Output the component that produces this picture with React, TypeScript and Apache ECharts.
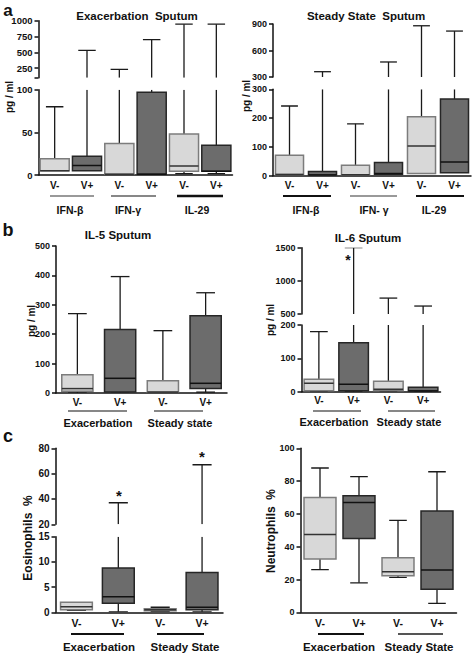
import React, { useEffect, useRef } from 'react';
import * as echarts from 'echarts';

// ---------- data ----------
const vLabels6 = ['V-', 'V+', 'V-', 'V+', 'V-', 'V+'];
const vLabels4 = ['V-', 'V+', 'V-', 'V+'];
const cytokineGroups = ['IFN-β', 'IFN-γ', 'IL-29'];
const cytokineGroupsSteady = ['IFN-β', 'IFN- γ', 'IL-29'];
const stateGroupsB = ['Exacerbation', 'Steady state'];
const stateGroupsC = ['Exacerbation', 'Steady State'];

// [min, q1, median, q3, max]
const exacerbationSputum = [
  [5, 5, 5, 19, 80],
  [5, 5, 11, 22, 530],
  [1, 1, 1, 37, 230],
  [1, 1, 1, 97, 700],
  [1.7, 4.5, 10.5, 48, 945],
  [1.7, 4.5, 4.5, 35, 945],
];
const steadyStateSputum = [
  [4, 4, 4, 71, 242],
  [2, 2, 2, 15, 360],
  [3, 3, 3, 36, 180],
  [5, 5, 8, 46, 470],
  [7, 8, 103, 205, 880],
  [9, 10, 48, 266, 820],
];
const il5Sputum = [
  [0, 6, 15, 62, 270],
  [0, 3, 50, 216, 396],
  [0, 3, 3, 42, 212],
  [3, 15, 33, 263, 341],
];
const il6Sputum = [
  [0, 3, 25, 37, 180],
  [0, 3, 22, 147, 1500],
  [0, 3, 7, 31, 740],
  [0, 2, 2, 13, 620],
];
const eosinophils = [
  [0.4, 0.5, 1.1, 2.0, 2.0],
  [0.1, 1.8, 3.1, 8.8, 37],
  [0.2, 0.3, 0.5, 0.7, 1.0],
  [0.1, 0.5, 1.0, 7.9, 67],
];
const neutrophils = [
  [26, 32.5, 47.5, 70, 88],
  [18, 45, 67, 71, 82.7],
  [21.3, 22.3, 24.8, 33.3, 56],
  [5.5, 14, 25.8, 61.8, 85.7],
];

// axis ticks / labels
const exacUpperTicks = [100, 250, 500, 750, 1000];
const exacUpperLabels = [250, 500, 750, 1000];
const exacLowerTicks = [0, 50, 100];
const steadyUpperTicks = [300, 600, 900];
const steadyLowerTicks = [0, 100, 200, 300];
const il5Ticks = [0, 100, 200, 300, 400, 500];
const il6UpperTicks = [500, 1000, 1500];
const il6LowerTicks = [0, 100, 200];
const eosUpperTicks = [20, 40, 60, 80];
const eosLowerTicks = [0, 5, 10, 15];
const neutTicks = [0, 20, 40, 60, 80, 100];

// ---------- styling ----------
const FONT = '"Liberation Sans", Arial, sans-serif';
const INK = '#111111';
const LIGHT = { fill: '#d8d8d8', stroke: '#7c7c7c', median: '#333333' };
const DARK = { fill: '#6c6c6c', stroke: '#262626', median: '#111111' };

function makeRender(boxRatio: number, capRatio: number) {
  return (params: any, api: any) => {
    const idx = api.value(0);
    const vals = [1, 2, 3, 4, 5].map((i) => api.value(i));
    const cs = params.coordSys;
    const top = cs.y;
    const bot = cs.y + cs.height;
    const cx = api.coord([idx, vals[2]])[0];
    const band = api.size([1, 0])[0];
    const hw = (band * boxRatio) / 2;
    const cw = hw * capRatio;
    const ys = vals.map((v: number) => api.coord([idx, v])[1]);
    const [yMin, yQ1, yMed, yQ3, yMax] = ys;
    const clamp = (v: number) => Math.max(top, Math.min(bot, v));
    const inside = (v: number) => v >= top - 0.5 && v <= bot + 0.5;
    const c = idx % 2 === 0 ? LIGHT : DARK;
    const wStyle = { stroke: '#1a1a1a', lineWidth: 1.3 };
    const children: any[] = [];
    const a1 = clamp(yQ3);
    const a2 = clamp(yMax);
    if (a1 - a2 > 0.5) children.push({ type: 'line', shape: { x1: cx, y1: a1, x2: cx, y2: a2 }, style: wStyle });
    if (inside(yMax) && yQ3 - yMax > 0.5)
      children.push({ type: 'line', shape: { x1: cx - cw, y1: yMax, x2: cx + cw, y2: yMax }, style: wStyle });
    const b1 = clamp(yQ1);
    const b2 = clamp(yMin);
    if (b2 - b1 > 0.5) children.push({ type: 'line', shape: { x1: cx, y1: b1, x2: cx, y2: b2 }, style: wStyle });
    if (inside(yMin) && yMin - yQ1 > 0.5)
      children.push({ type: 'line', shape: { x1: cx - cw, y1: yMin, x2: cx + cw, y2: yMin }, style: wStyle });
    const r1 = clamp(yQ3);
    const r2 = clamp(yQ1);
    if (r2 - r1 > 0.3)
      children.push({
        type: 'rect',
        shape: { x: cx - hw, y: r1, width: hw * 2, height: r2 - r1 },
        style: { fill: c.fill, stroke: c.stroke, lineWidth: 1.5 },
      });
    if (inside(yMed) && r2 - r1 > 0.3)
      children.push({
        type: 'line',
        shape: { x1: cx - hw, y1: yMed, x2: cx + hw, y2: yMed },
        style: { stroke: c.median, lineWidth: 1.5 },
      });
    return { type: 'group', children };
  };
}

function xAx(gridIndex: number, labels: string[], show: boolean, margin = 6, fontSize = 10) {
  return {
    type: 'category',
    gridIndex,
    data: labels,
    boundaryGap: true,
    show,
    axisLine: { show, lineStyle: { color: INK, width: 1.5 } },
    axisTick: { show: false },
    axisLabel: { show, fontSize, fontWeight: 'bold', color: INK, fontFamily: FONT, margin },
    splitLine: { show: false },
  };
}

function yAx(gridIndex: number, min: number, max: number, ticks: number[], labels: number[], fontSize = 9) {
  return {
    type: 'value',
    gridIndex,
    min,
    max,
    axisLine: { show: true, lineStyle: { color: INK, width: 1.5 } },
    axisTick: { show: true, length: 4, lineStyle: { color: INK, width: 1.5 }, customValues: ticks },
    axisLabel: {
      customValues: labels,
      formatter: (v: number) => String(v),
      fontSize,
      fontWeight: 'bold',
      color: INK,
      fontFamily: FONT,
      margin: 6,
    },
    splitLine: { show: false },
  };
}

function boxSeries(axisIndex: number, data: number[][], boxRatio: number, capRatio = 0.6) {
  return {
    type: 'custom',
    coordinateSystem: 'cartesian2d',
    xAxisIndex: axisIndex,
    yAxisIndex: axisIndex,
    silent: true,
    clip: true,
    data: data.map((d, i) => [i, ...d]),
    renderItem: makeRender(boxRatio, capRatio),
  };
}

function txt(text: string, x: number, y: number, fontSize: number, rotate = 0, color = INK) {
  return {
    type: 'text',
    x,
    y,
    rotation: rotate,
    silent: true,
    style: {
      text,
      fill: color,
      fontSize,
      fontWeight: 'bold',
      fontFamily: FONT,
      align: 'center',
      verticalAlign: 'middle',
      textAlign: 'center',
      textVerticalAlign: 'middle',
    },
  };
}

function hline(x1: number, x2: number, y: number, color = INK, width = 1.5) {
  return { type: 'line', silent: true, shape: { x1, y1: y, x2, y2: y }, style: { stroke: color, lineWidth: width } };
}

export default function App() {
  const ref = useRef<HTMLDivElement>(null);
  useEffect(() => {
    document.body.style.margin = '0';
    if (!ref.current) return;
    const chart = echarts.init(ref.current, undefined, { renderer: 'svg', width: 472, height: 653 });
    const grids = [
      { left: 38.5, top: 20.7, width: 194, height: 57 },
      { left: 38.5, top: 89.7, width: 194, height: 85.3 },
      { left: 273, top: 24, width: 198, height: 53 },
      { left: 273, top: 89.3, width: 198, height: 86.4 },
      { left: 56, top: 246, width: 171, height: 147 },
      { left: 301.5, top: 247.7, width: 139, height: 66.3 },
      { left: 301.5, top: 325, width: 139, height: 66.7 },
      { left: 55.5, top: 448.3, width: 167.5, height: 76 },
      { left: 55.5, top: 536.7, width: 167.5, height: 75.6 },
      { left: 300.5, top: 448.3, width: 156, height: 164 },
    ];
    const xAxis = [
      xAx(0, vLabels6, false),
      xAx(1, vLabels6, true, 5),
      xAx(2, vLabels6, false),
      xAx(3, vLabels6, true, 5),
      xAx(4, vLabels4, true, 4),
      xAx(5, vLabels4, false),
      xAx(6, vLabels4, true, 4),
      xAx(7, vLabels4, false),
      xAx(8, vLabels4, true, 5, 10.5),
      xAx(9, vLabels4, true, 5, 10.5),
    ];
    const yAxis = [
      yAx(0, 100, 1000, exacUpperTicks, exacUpperLabels, 9.5),
      yAx(1, 0, 100, exacLowerTicks, exacLowerTicks, 9.5),
      yAx(2, 300, 900, steadyUpperTicks, steadyUpperTicks),
      yAx(3, 0, 300, steadyLowerTicks, steadyLowerTicks),
      yAx(4, 0, 500, il5Ticks, il5Ticks),
      yAx(5, 500, 1500, il6UpperTicks, il6UpperTicks),
      yAx(6, 0, 200, il6LowerTicks, il6LowerTicks),
      yAx(7, 20, 80, eosUpperTicks, eosUpperTicks, 10),
      yAx(8, 0, 15, eosLowerTicks, eosLowerTicks, 10),
      yAx(9, 0, 100, neutTicks, neutTicks),
    ];
    const series = [
      boxSeries(0, exacerbationSputum, 0.9),
      boxSeries(1, exacerbationSputum, 0.9),
      boxSeries(2, steadyStateSputum, 0.85),
      boxSeries(3, steadyStateSputum, 0.85),
      boxSeries(4, il5Sputum, 0.73),
      boxSeries(5, il6Sputum, 0.85),
      boxSeries(6, il6Sputum, 0.85),
      boxSeries(7, eosinophils, 0.76),
      boxSeries(8, eosinophils, 0.76),
      boxSeries(9, neutrophils, 0.82, 0.55),
    ];
    const R = Math.PI / 2;
    const graphic = [
      // panel letters
      txt('a', 8, 10, 17),
      txt('b', 8, 230, 18),
      txt('c', 8, 436, 18),
      // titles
      txt('Exacerbation  Sputum', 137, 16, 11.5),
      txt('Steady State  Sputum', 366, 16, 11.5),
      txt('IL-5 Sputum', 118, 235, 11.5),
      txt('IL-6 Sputum', 368, 238, 11.5),
      // y names
      txt('pg / ml', 9, 97, 10, R),
      txt('pg / ml', 246.5, 96, 10, R),
      txt('pg / ml', 31, 321, 10, R),
      txt('pg / ml', 270, 320, 10, R),
      txt('Eosinophils  %', 28, 538, 12, R),
      txt('Neutrophils  %', 271, 531, 12, R),
      // group underlines & labels, panel a
      hline(50, 94, 196, '#777777', 1.5),
      hline(111, 156, 196, INK, 1.2),
      hline(177, 223, 196, INK, 2.5),
      txt(cytokineGroups[0], 70, 210, 10.5),
      txt(cytokineGroups[1], 128, 210, 10.5),
      txt(cytokineGroups[2], 197, 210, 10.5),
      hline(283, 331, 196, INK, 2),
      hline(350, 397, 196, '#777777', 1.5),
      hline(416, 464, 196, INK, 2),
      txt(cytokineGroupsSteady[0], 306, 210, 10.5),
      txt(cytokineGroupsSteady[1], 374, 210, 10.5),
      txt(cytokineGroupsSteady[2], 434, 210, 10.5),
      // panel b
      hline(68, 127, 411, INK, 1.2),
      hline(154, 203, 411, INK, 1.2),
      txt(stateGroupsB[0], 98, 423, 11),
      txt(stateGroupsB[1], 180, 423, 11),
      hline(313, 361, 411, INK, 1.2),
      hline(388, 435, 411, INK, 1.2),
      txt(stateGroupsB[0], 334, 422, 11),
      txt(stateGroupsB[1], 409, 422, 11),
      // panel c
      hline(71, 124, 634, INK, 2),
      hline(157, 204, 634, INK, 2),
      txt(stateGroupsC[0], 99, 647, 11.5),
      txt(stateGroupsC[1], 185, 647, 11.5),
      hline(318, 364, 634, INK, 2),
      hline(398, 443, 634, '#555555', 2),
      txt(stateGroupsC[0], 339, 647, 11.5),
      txt(stateGroupsC[1], 419, 647, 11.5),
      // significance stars
      txt('*', 348, 260, 14),
      txt('*', 119, 495, 15),
      txt('*', 202, 456, 15),
    ];
    chart.setOption({
      animation: false,
      backgroundColor: '#ffffff',
      grid: grids,
      xAxis,
      yAxis,
      series,
      graphic,
    });
    return () => chart.dispose();
  }, []);
  return <div ref={ref} style={{ position: 'absolute', left: 0, top: 0, width: 472, height: 653 }} />;
}
